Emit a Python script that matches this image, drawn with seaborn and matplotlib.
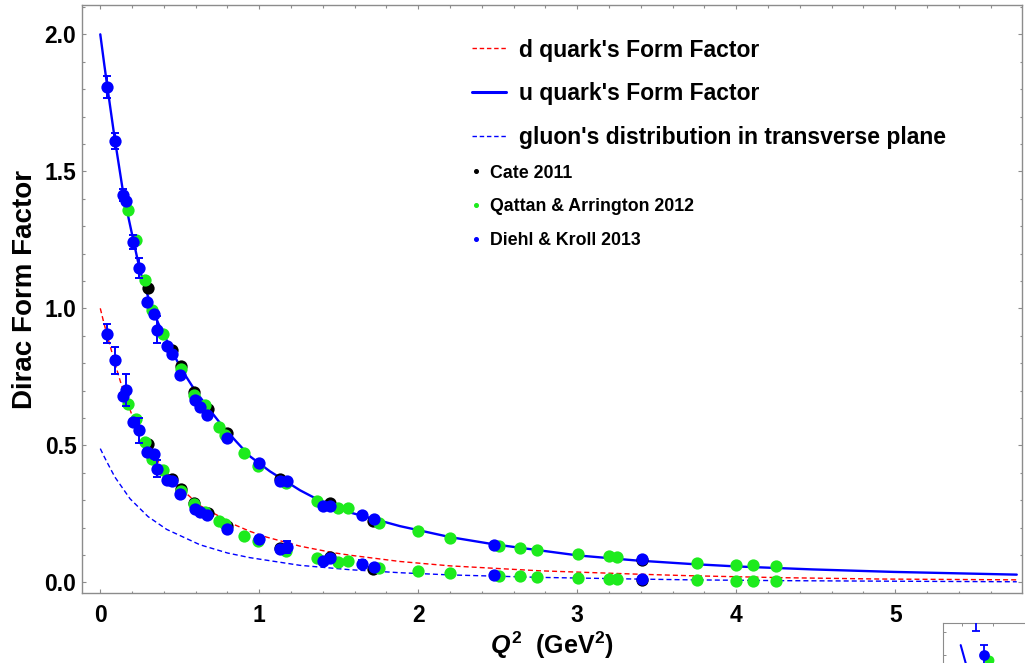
import matplotlib
matplotlib.use("Agg")
import matplotlib.pyplot as plt
import seaborn as sns
import pandas as pd
from matplotlib.lines import Line2D
from matplotlib.ticker import MultipleLocator, FormatStrFormatter

# ---------------- curves ----------------
u_curve_q2 = [0, 0.025, 0.044, 0.088, 0.145, 0.208, 0.245, 0.281, 0.333, 0.365, 0.47, 0.522,
              0.596, 0.69, 0.774, 0.858, 0.941, 1.067, 1.256, 1.424, 1.57, 1.885, 2.2, 2.472,
              3.006, 3.365, 3.71, 4.0, 4.484, 4.988, 5.764]
u_curve_f = [2.0, 1.89, 1.81, 1.63, 1.418, 1.248, 1.15, 1.075, 0.99, 0.945, 0.822, 0.767,
             0.70, 0.628, 0.566, 0.512, 0.46, 0.405, 0.336, 0.285, 0.255, 0.205, 0.165, 0.139,
             0.098, 0.08, 0.067, 0.058, 0.047, 0.038, 0.028]

d_curve_q2 = [0, 0.022, 0.044, 0.092, 0.128, 0.208, 0.292, 0.396, 0.501, 0.627, 0.837, 0.941,
              1.046, 1.256, 1.466, 1.57, 1.885, 2.2, 2.765, 3.365, 3.71, 4.275, 4.904, 5.764]
d_curve_f = [1.0, 0.948, 0.9, 0.8, 0.73, 0.595, 0.5, 0.415, 0.345, 0.28, 0.212, 0.186,
             0.165, 0.132, 0.108, 0.099, 0.076, 0.06, 0.042, 0.03, 0.024, 0.017, 0.012, 0.009]

g_curve_q2 = [0, 0.025, 0.05, 0.092, 0.187, 0.3, 0.418, 0.627, 0.8, 0.941, 1.256, 1.57, 1.885,
              2.2, 2.765, 3.365, 3.71, 4.3, 5.0, 5.764]
g_curve_f = [0.488, 0.458, 0.43, 0.384, 0.305, 0.24, 0.193, 0.137, 0.107, 0.09, 0.062, 0.046,
             0.035, 0.027, 0.018, 0.012, 0.009, 0.006, 0.004, 0.002]

# ---------------- data points ----------------
cate_q2 = [0.302, 0.451, 0.506, 0.589, 0.675, 0.796, 1.13, 1.442, 1.717, 3.409]
cate_u = [1.074, 0.847, 0.790, 0.695, 0.632, 0.545, 0.377, 0.291, 0.224, 0.083]
cate_d = [0.506, 0.378, 0.342, 0.289, 0.253, 0.205, 0.125, 0.093, 0.048, 0.010]

qa_q2 = [0.172, 0.223, 0.281, 0.323, 0.396, 0.506, 0.589, 0.658, 0.749, 0.784, 0.906, 0.994,
         1.166, 1.361, 1.497, 1.556, 1.755, 2.0, 2.197, 2.506, 2.64, 2.748, 3.006, 3.201,
         3.248, 3.751, 3.998, 4.103, 4.25]
qa_u = [1.358, 1.248, 1.102, 0.993, 0.908, 0.78, 0.685, 0.646, 0.567, 0.537, 0.473, 0.426,
        0.362, 0.298, 0.271, 0.273, 0.216, 0.187, 0.163, 0.133, 0.125, 0.117, 0.102, 0.095,
        0.092, 0.070, 0.065, 0.065, 0.060]
qa_d = [0.652, 0.597, 0.512, 0.451, 0.409, 0.335, 0.287, 0.255, 0.222, 0.212, 0.168, 0.151,
        0.114, 0.087, 0.074, 0.078, 0.054, 0.041, 0.034, 0.023, 0.023, 0.018, 0.015, 0.012,
        0.012, 0.008, 0.006, 0.006, 0.006]

dk_q2 = [0.044, 0.09, 0.141, 0.162, 0.208, 0.245, 0.292, 0.34, 0.355, 0.418, 0.453, 0.501,
         0.596, 0.627, 0.671, 0.795, 1.0, 1.13, 1.174, 1.403, 1.447, 1.644, 1.721, 2.476, 3.409]
dk_u = [1.808, 1.61, 1.415, 1.39, 1.242, 1.147, 1.023, 0.978, 0.922, 0.862, 0.835, 0.756,
        0.664, 0.64, 0.61, 0.525, 0.436, 0.37, 0.368, 0.278, 0.28, 0.245, 0.23, 0.138, 0.086]
dk_u_err = [0.04, 0.03, 0.022, 0.01, 0.025, 0.035, 0.01, 0.01, 0.05, 0.01, 0.01, 0.01,
            0.01, 0.01, 0.01, 0.01, 0.01, 0.01, 0.01, 0.01, 0.01, 0.01, 0.01, 0.01, 0.01]
dk_d = [0.908, 0.81, 0.68, 0.703, 0.585, 0.555, 0.476, 0.467, 0.415, 0.372, 0.369, 0.321,
        0.269, 0.257, 0.245, 0.196, 0.159, 0.123, 0.129, 0.078, 0.088, 0.068, 0.056, 0.027, 0.012]
dk_d_err = [0.035, 0.05, 0.01, 0.058, 0.01, 0.045, 0.01, 0.01, 0.03, 0.01, 0.01, 0.01,
            0.01, 0.01, 0.01, 0.01, 0.01, 0.01, 0.022, 0.01, 0.01, 0.012, 0.01, 0.01, 0.01]

# stray inset (partial panel in the bottom-right corner)
inset_blue_x = [0.344, 0.2775]
inset_blue_y = [0.596, 1.08]
inset_blue_err = [0.13, 0.18]
inset_green_x = [0.385]
inset_green_y = [0.53]
inset_line_x = [0.15, 0.2]
inset_line_y = [0.72, 0.45]

legend_lines = ["d quark's Form Factor", "u quark's Form Factor",
                "gluon's distribution in transverse plane"]
legend_points = ["Cate 2011", "Qattan & Arrington 2012", "Diehl & Kroll 2013"]

RED = "#FF0000"
BLUE = "#0000FF"
GREEN = "#1DEB1D"
BLACK = "#000000"
FRAME = "#8c8c8c"

sns.set_theme(style="white")
plt.rcParams["font.family"] = ["Liberation Sans", "DejaVu Sans"]
plt.rcParams["font.weight"] = "bold"
plt.rcParams["text.color"] = "black"
plt.rcParams["axes.labelcolor"] = "black"
plt.rcParams["xtick.color"] = "black"
plt.rcParams["ytick.color"] = "black"
plt.rcParams["mathtext.fontset"] = "custom"
plt.rcParams["mathtext.it"] = "Liberation Sans:italic:bold"
plt.rcParams["mathtext.rm"] = "Liberation Sans:bold"
plt.rcParams["mathtext.bf"] = "Liberation Sans:bold"

W, H = 1025, 663
fig = plt.figure(figsize=(W / 100, H / 100), dpi=100)
ax = fig.add_axes([82 / W, 1 - 593 / H, (1022 - 82) / W, (593 - 5) / H])

# curves
sns.lineplot(x=u_curve_q2, y=u_curve_f, ax=ax, color=BLUE, lw=1.7, sort=False,
             estimator=None, legend=False, zorder=2)
sns.lineplot(x=d_curve_q2, y=d_curve_f, ax=ax, color=RED, lw=1.0, sort=False,
             estimator=None, legend=False, zorder=2)
sns.lineplot(x=g_curve_q2, y=g_curve_f, ax=ax, color=BLUE, lw=1.0, sort=False,
             estimator=None, legend=False, zorder=2)
ax.lines[1].set_linestyle((0, (3.6, 2.2)))
ax.lines[2].set_linestyle((0, (3.6, 2.2)))

# data points
S = 78
for q, v in ((cate_q2, cate_u), (cate_q2, cate_d)):
    sns.scatterplot(x=q, y=v, ax=ax, color=BLACK, s=S, linewidth=0, legend=False, zorder=3)
for q, v in ((qa_q2, qa_u), (qa_q2, qa_d)):
    sns.scatterplot(x=q, y=v, ax=ax, color=GREEN, s=S, linewidth=0, legend=False, zorder=4)
for q, v, e in ((dk_q2, dk_u, dk_u_err), (dk_q2, dk_d, dk_d_err)):
    ax.errorbar(q, v, yerr=e, fmt="none", ecolor=BLUE, elinewidth=1.4, capsize=2.6,
                capthick=1.4, zorder=5)
    sns.scatterplot(x=q, y=v, ax=ax, color=BLUE, s=S, linewidth=0, legend=False, zorder=6)

ax.set_xlim(-0.115, 5.797)
ax.set_ylim(-0.039, 2.107)

ax.xaxis.set_major_locator(MultipleLocator(1))
ax.xaxis.set_minor_locator(MultipleLocator(0.2))
ax.yaxis.set_major_locator(MultipleLocator(0.5))
ax.yaxis.set_minor_locator(MultipleLocator(0.1))
ax.xaxis.set_major_formatter(FormatStrFormatter("%d"))
ax.yaxis.set_major_formatter(FormatStrFormatter("%.1f"))

for sp in ax.spines.values():
    sp.set_visible(True)
    sp.set_color(FRAME)
    sp.set_linewidth(1.0)

ax.tick_params(which="both", direction="in", top=True, right=True, bottom=True, left=True,
               color=FRAME, width=0.8)
ax.tick_params(which="major", length=3.2)
ax.tick_params(which="minor", length=1.8)
ax.tick_params(axis="x", which="major", labelsize=16.5, pad=8, labelcolor="black")
ax.tick_params(axis="y", which="major", labelsize=16.5, pad=4, labelcolor="black")
for lab in ax.get_xticklabels() + ax.get_yticklabels():
    lab.set_fontweight("bold")

ax.set_ylabel("Dirac Form Factor", fontsize=20, fontweight="bold", color="black")
ax.yaxis.set_label_coords(-0.047, 0.517)
ax.set_xlabel(r"$Q^2$  (GeV$^2$)", fontsize=18, fontweight="bold", color="black")
ax.xaxis.set_label_coords(0.5, -0.063)

# legends
h_lines = [Line2D([], [], color=RED, lw=1.0, ls=(0, (3.2, 2.0))),
           Line2D([], [], color=BLUE, lw=2.2),
           Line2D([], [], color=BLUE, lw=1.0, ls=(0, (3.2, 2.0)))]
leg1 = ax.legend(h_lines, legend_lines, loc="upper left",
                 bbox_to_anchor=(471.7 / W, 1 - 38.5 / H), bbox_transform=fig.transFigure,
                 frameon=False, borderpad=0, borderaxespad=0, handlelength=1.5,
                 handletextpad=0.58, labelspacing=0.9, labelcolor="black",
                 prop={"size": 16.5, "weight": "bold"})
ax.add_artist(leg1)
h_pts = [Line2D([], [], color=c, marker="o", ls="none", markersize=2.6)
         for c in (BLACK, GREEN, BLUE)]
leg2 = ax.legend(h_pts, legend_points, loc="upper left",
                 bbox_to_anchor=(468.9 / W, 1 - 164.5 / H), bbox_transform=fig.transFigure,
                 frameon=False, borderpad=0, borderaxespad=0, handlelength=0.8,
                 handletextpad=0.39, labelspacing=0.94, numpoints=1, labelcolor="black",
                 prop={"size": 12.8, "weight": "bold"})

# stray partial inset in corner
iax = fig.add_axes([942.7 / W, -39.7 / H, 120 / W, 80 / H])
iax.set_xlim(0, 1)
iax.set_ylim(0, 1)
sns.lineplot(x=inset_line_x, y=inset_line_y, ax=iax, color=BLUE, lw=1.5, sort=False,
             estimator=None, legend=False)
sns.scatterplot(x=inset_green_x, y=inset_green_y, ax=iax, color=GREEN, s=50, linewidth=0,
                legend=False, zorder=3)
iax.errorbar(inset_blue_x, inset_blue_y, yerr=inset_blue_err, fmt="none", ecolor=BLUE,
             elinewidth=1.3, capsize=2.6, capthick=1.3, zorder=4)
sns.scatterplot(x=inset_blue_x, y=inset_blue_y, ax=iax, color=BLUE, s=60, linewidth=0,
                legend=False, zorder=5)
for sp in iax.spines.values():
    sp.set_visible(True)
    sp.set_color(FRAME)
    sp.set_linewidth(0.8)
iax.set_xticks([0.16, 0.42])
iax.set_yticks([0.6, 0.88])
iax.tick_params(direction="in", top=True, bottom=False, left=True, right=False,
                labelbottom=False, labelleft=False, color=FRAME, length=2.5, width=0.7)
iax.set_xlabel("")
iax.set_ylabel("")

fig.savefig("out.png", dpi=100)
